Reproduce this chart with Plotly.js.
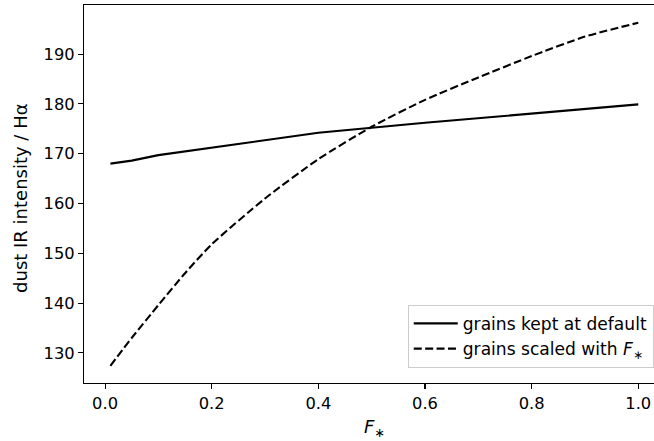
<!DOCTYPE html>
<html>
<head>
<meta charset="utf-8">
<script src="https://cdn.plot.ly/plotly-3.0.1.min.js"></script>
<style>html,body{margin:0;padding:0;background:#fff;}#chart{width:654px;height:441px;}</style>
</head>
<body>
<div id="chart"></div>
<script>
var xDefault = [0.01, 0.05, 0.1, 0.2, 0.4, 0.6, 0.8, 1.0];
var yDefault = [168.0, 168.6, 169.7, 171.2, 174.2, 176.2, 178.1, 179.9];
var xScaled = [0.01, 0.05, 0.1, 0.15, 0.2, 0.3, 0.4, 0.5, 0.6, 0.7, 0.8, 0.9, 1.0];
var yScaled = [127.4, 133.0, 139.6, 146.0, 151.8, 161.0, 168.9, 175.4, 180.8, 185.3, 189.6, 193.5, 196.3];
var seriesNames = ["grains kept at default", "grains scaled with <i>F</i><sub>∗</sub>"];
var xTitle = "<i>F</i><sub>∗</sub>";
var yTitle = "dust IR intensity / Hα";
var xTicks = [0.0, 0.2, 0.4, 0.6, 0.8, 1.0];
var xTickText = ["0.0", "0.2", "0.4", "0.6", "0.8", "1.0"];
var yTicks = [130, 140, 150, 160, 170, 180, 190];

var tickFont = {family: "DejaVu Sans", size: 16.3, color: "#000"};
var titleFont = {family: "DejaVu Sans", size: 18, color: "#000"};
var traces = [
  {x: xDefault, y: yDefault, name: seriesNames[0], mode: "lines", type: "scatter",
   line: {color: "#000", width: 2.1}},
  {x: xScaled, y: yScaled, name: seriesNames[1], mode: "lines", type: "scatter",
   line: {color: "#000", width: 2.1, dash: "8px,3.4px", shape: "spline", smoothing: 0.6}}
];
var layout = {
  width: 654, height: 441,
  margin: {l: 84, r: 0, t: 5, b: 58},
  paper_bgcolor: "#fff", plot_bgcolor: "#fff",
  font: tickFont,
  showlegend: true,
  legend: {x: 0.568, y: 0.207, xanchor: "left", yanchor: "top",
           bgcolor: "rgba(255,255,255,0.8)", bordercolor: "#cccccc", borderwidth: 1,
           itemwidth: 44,
           font: {family: "DejaVu Sans", size: 17.1, color: "#000"}, tracegroupgap: 0},
  xaxis: {range: [-0.0395, 1.0295], tickvals: xTicks, ticktext: xTickText,
          showgrid: false, zeroline: false, showline: true, linecolor: "#000", linewidth: 1.1,
          mirror: true, ticks: "outside", ticklen: 5, tickwidth: 1.1, tickcolor: "#000",
          tickfont: tickFont},
  yaxis: {range: [123.95, 199.85], tickvals: yTicks,
          showgrid: false, zeroline: false, showline: true, linecolor: "#000", linewidth: 1.1,
          ticks: "outside", ticklen: 5, tickwidth: 1.1, tickcolor: "#000",
          tickfont: tickFont},
  annotations: [
    {text: xTitle, xref: "paper", yref: "paper", x: 0.5096, y: -0.119,
     xanchor: "center", yanchor: "middle", showarrow: false, font: titleFont},
    {text: yTitle, xref: "paper", yref: "paper", x: -0.1105, y: 0.487,
     xanchor: "center", yanchor: "middle", textangle: -90, showarrow: false, font: titleFont}
  ]
};
Plotly.newPlot("chart", traces, layout, {displayModeBar: false, staticPlot: true});
</script>
</body>
</html>
